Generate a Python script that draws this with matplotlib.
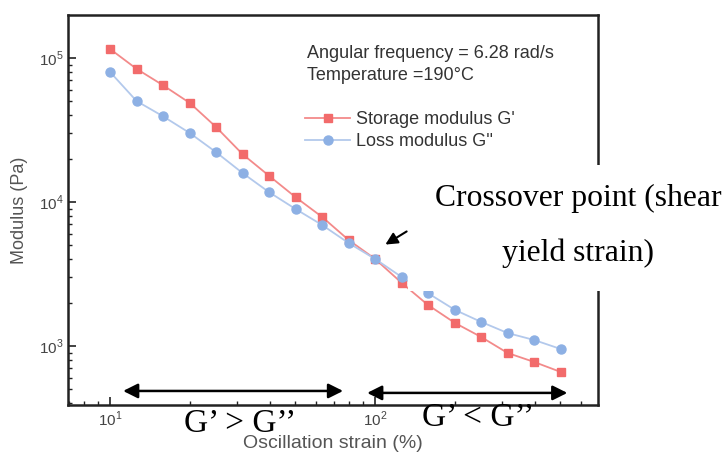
import numpy as np
import matplotlib
matplotlib.use('Agg')
import matplotlib.pyplot as plt
from matplotlib.patches import Rectangle, FancyArrowPatch

# oscillation strain sweep (%), 10 points per decade
strain = [10.0, 12.6, 15.8, 20.0, 25.1, 31.6, 39.8, 50.1, 63.1,
          79.4, 100.0, 126.0, 158.0, 200.0, 251.0, 316.0, 398.0, 501.0]

# storage modulus G' (Pa)
g_storage = [115500, 84000, 64900, 48700, 33200, 21500, 15200, 10800, 7870,
             5450, 4020, 2740, 1930, 1445, 1155, 894, 774, 660]

# loss modulus G'' (Pa)
g_loss = [80000, 50200, 39500, 30100, 22200, 15900, 11700, 8940, 6920,
          5190, 4020, 3010, 2330, 1780, 1470, 1230, 1100, 953]

xlim = [6.94, 693]
ylim = [389, 199000]

red = '#f26b6b'
blue = '#8db0e4'
grey = '#444444'
serif = ['Liberation Serif', 'DejaVu Serif']
sans = ['Liberation Sans', 'DejaVu Sans']

plt.rcParams['font.family'] = sans
plt.rcParams['mathtext.fontset'] = 'custom'
plt.rcParams['mathtext.rm'] = 'Liberation Sans'

W, H = 726, 454


def fx(px):
    return px / W


def fy(py):
    return 1 - py / H


fig = plt.figure(figsize=(W / 100, H / 100), dpi=100)
ax = fig.add_axes([fx(68), fy(405), (598 - 68) / W, (405 - 15) / H])

ax.plot(strain, g_storage, '-', color='#f38a8a', linewidth=1.3, marker='s',
        markersize=6, markerfacecolor=red, markeredgecolor=red,
        label="Storage modulus G'")
ax.plot(strain, g_loss, '-', color='#b3c9ec', linewidth=1.3, marker='o',
        markersize=6.5, markerfacecolor=blue, markeredgecolor=blue,
        label="Loss modulus G''")

ax.set_xscale('log')
ax.set_yscale('log')
ax.set_xlim(xlim)
ax.set_ylim(ylim)

ax.set_xticks([10, 100])
ax.set_xticklabels(['$10^{1}$', '$10^{2}$'])
ax.set_yticks([1e3, 1e4, 1e5])
ax.set_yticklabels(['$10^{3}$', '$10^{4}$', '$10^{5}$'])
ax.tick_params(which='both', direction='in', top=False, right=False,
               labelsize=11, labelcolor=grey, colors='#222222')
ax.tick_params(axis='y', pad=3)
ax.tick_params(which='major', length=6, width=1.2)
ax.tick_params(which='minor', length=3, width=1)
for s in ax.spines.values():
    s.set_linewidth(1.8)
    s.set_color('#222222')

ax.set_xlabel('Oscillation strain (%)', fontsize=14, color='#555555', labelpad=4)
ax.set_ylabel('Modulus (Pa)', fontsize=13, color='#555555', labelpad=8)

fig.text(fx(307), fy(53), 'Angular frequency = 6.28 rad/s',
         fontsize=13, color='#333333', va='center', ha='left')
fig.text(fx(307), fy(75), 'Temperature =190°C',
         fontsize=13, color='#333333', va='center', ha='left')

leg = ax.legend(loc='upper left', bbox_to_anchor=(fx(305), fy(111)),
                bbox_transform=fig.transFigure, frameon=False, fontsize=13,
                handlelength=2.5, handletextpad=0.35, labelspacing=0.3,
                borderaxespad=0, borderpad=0)
for t in leg.get_texts():
    t.set_color('#333333')

# region arrows below the curves
ax.annotate('', xy=(11.2, 487), xytext=(75.7, 487),
            arrowprops=dict(arrowstyle='<|-|>', color='black', lw=1.8,
                            mutation_scale=22, shrinkA=0, shrinkB=0))
ax.annotate('', xy=(93.3, 472), xytext=(531.0, 472),
            arrowprops=dict(arrowstyle='<|-|>', color='black', lw=1.8,
                            mutation_scale=22, shrinkA=0, shrinkB=0))

fig.text(fx(240), fy(424), 'G’ > G’’', family=serif, fontsize=24,
         ha='center', va='center', zorder=5)
fig.text(fx(478), fy(418), 'G’ < G’’', family=serif, fontsize=24,
         ha='center', va='center', zorder=5)

# white panel carrying the crossover callout
fig.patches.append(Rectangle((fx(408), fy(291)), (W - 408) / W, (291 - 165) / H,
                             transform=fig.transFigure, facecolor='white',
                             edgecolor='none', zorder=4))
fig.text(fx(578), fy(198), 'Crossover point (shear', family=serif,
         fontsize=22.8, ha='center', va='center', zorder=5)
fig.text(fx(578), fy(253), 'yield strain)', family=serif,
         fontsize=22.8, ha='center', va='center', zorder=5)

fig.patches.append(FancyArrowPatch(
    (fx(409), fy(230)), (fx(383), fy(246)), transform=fig.transFigure,
    arrowstyle='-|>', mutation_scale=18, color='black', lw=1.5, zorder=6))

fig.savefig('out.png', dpi=100)
